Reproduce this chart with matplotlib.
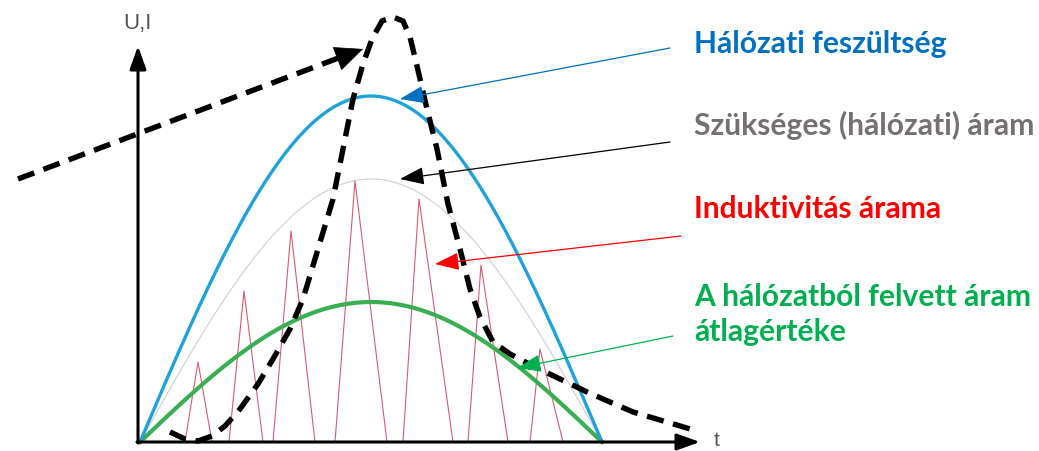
import numpy as np
import matplotlib.pyplot as plt

# chart units: t from the origin, values up from the t axis
half_period = 462
u_peak = 346        # hálózati feszültség
i_need_peak = 263   # szükséges áram
i_avg_peak = 140    # felvett áram átlaga

# inductor current triangles: start, peak, end and peak height
tri_start = [45, 89, 133, 195, 263, 328, 390]
tri_peak = [58, 104, 151, 215, 279, 341, 400]
tri_end = [72, 123, 175, 247, 313, 368, 423]
tri_height = [80, 151, 211, 261, 243, 177, 93]

# hand drawn dashed pulse
pulse_t = [30, 45, 58, 72, 85, 100, 118, 133, 150, 163, 178, 193, 203, 213, 223,
           232, 242, 253, 263, 270, 277, 287, 297, 308, 320, 330, 340, 353, 370,
           393, 420, 447, 493, 557]
pulse_v = [10, 3, 1, 6, 16, 33, 58, 83, 113, 143, 193, 243, 293, 343, 378,
           403, 421, 425, 421, 405, 376, 333, 293, 238, 193, 153, 125, 100, 88,
           76, 63, 50, 30, 11]
slope_t = [-122, 223]
slope_v = [263, 393]

labels = ['Hálózati feszültség', 'Szükséges (hálózati) áram',
          'Induktivitás árama', 'A hálózatból felvett áram\nátlagértéke']
label_colors = ['#0070c0', '#767171', '#ff0000', '#00b050']
arrow_colors = ['#0070c0', '#000000', '#ff0000', '#00b050']
label_base = [390, 308, 225, 102]
arrow_from = [(530, 394), (530, 300), (541, 206), (533, 106)]
arrow_to = [(260, 343), (260, 263), (295, 178), (377, 74)]

fig = plt.figure(figsize=(10.39, 4.52), dpi=100)
ax = fig.add_axes([0, 0, 1, 1])
ax.set_xlim(-140, 899)
ax.set_ylim(-9, 443)
ax.axis('off')

t = np.linspace(0, half_period, 300)
s = np.sin(np.pi * t / half_period)
ax.plot(t, i_need_peak * s, color='#d4d4d4', lw=0.9, zorder=2)

# red sawtooth
rx, ry = [0], [0]
for a, p, b, h in zip(tri_start, tri_peak, tri_end, tri_height):
    rx += [a, p, b]
    ry += [0, h, 0]
ax.plot(rx, ry, color='#d65a72', lw=0.8, zorder=3)

ax.plot(t, i_avg_peak * s, color='#3aae52', lw=3.0, zorder=4)
ax.plot(t, u_peak * s, color='#1fa2dc', lw=2.4, zorder=4)

# axes with arrows
axis_kw = dict(arrowstyle='-|>,head_length=1.4,head_width=0.5', color='black',
               lw=2.2, mutation_scale=10, shrinkA=0, shrinkB=0)
ax.annotate('', xy=(-2, 396), xytext=(-2, -1), arrowprops=axis_kw, zorder=5)
ax.annotate('', xy=(560, 0), xytext=(-3, 0), arrowprops=axis_kw, zorder=5)
ax.text(-3, 419, 'U,I', fontsize=16, color='#555555', ha='center', va='center',
        family='Liberation Sans')
ax.text(577, 2, 't', fontsize=15, color='#555555', ha='center', va='center',
        family='Liberation Sans')

# dashed curves
dash_kw = dict(color='black', lw=3.9, dashes=(3.2, 1.8), zorder=6)
ax.plot(pulse_t, pulse_v, solid_joinstyle='round', **dash_kw)
ax.plot([slope_t[0], slope_t[1] - 14], [slope_v[0], slope_v[1] - 5], **dash_kw)
ax.annotate('', xy=(slope_t[1], slope_v[1]), xytext=(slope_t[1] - 20, slope_v[1] - 7.5),
            arrowprops=dict(arrowstyle='-|>,head_length=1.9,head_width=0.85',
                            color='black', lw=0.5, mutation_scale=10,
                            shrinkA=0, shrinkB=0), zorder=7)

# labels with pointer arrows
for txt, c, ac, yb, p0, p1 in zip(labels, label_colors, arrow_colors, label_base,
                                  arrow_from, arrow_to):
    ax.text(554, yb, txt, color=c, fontsize=21.6, fontweight='bold', family='Lato',
            ha='left', va='baseline', linespacing=1.3)
    ax.annotate('', xy=p1, xytext=p0,
                arrowprops=dict(arrowstyle='-|>,head_length=1.5,head_width=0.55',
                                color=ac, lw=0.9, mutation_scale=10,
                                shrinkA=0, shrinkB=0), zorder=8)

fig.savefig('out.png', dpi=100)
